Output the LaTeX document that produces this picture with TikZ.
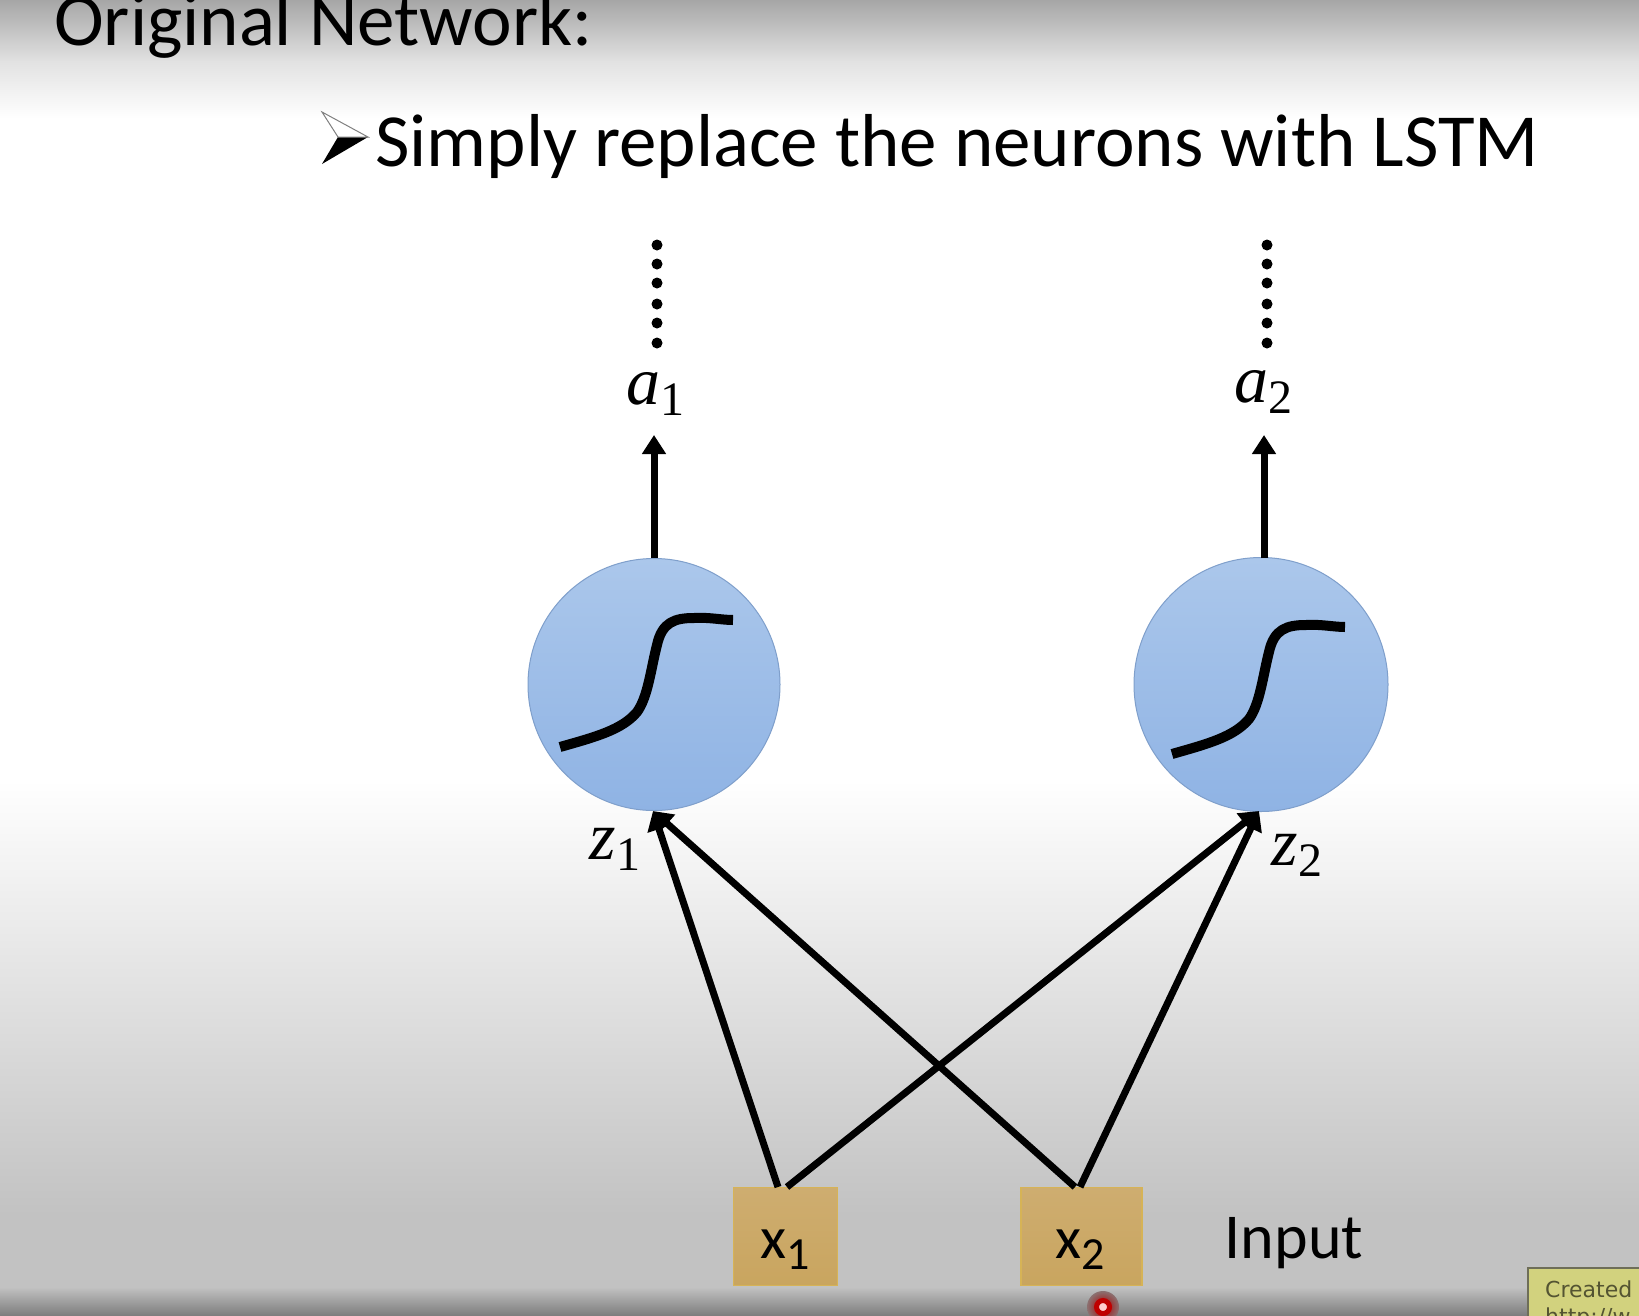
\documentclass[tikz,border=0pt]{standalone}
\usepackage{fontspec}
\setmainfont{Carlito}
\newfontfamily\mathish[ItalicFont={Liberation Serif Italic}]{Liberation Serif}
\newfontfamily\tipfont{DejaVu Sans}
\usetikzlibrary{arrows.meta}
\definecolor{bgtop}{HTML}{A6A6A6}
\definecolor{bgtwo}{HTML}{E2E2E2}
\definecolor{bgmid}{HTML}{C2C2C2}
\definecolor{bgdark}{HTML}{7E7E7E}
\definecolor{circtop}{HTML}{ABC7EB}
\definecolor{circbot}{HTML}{8FB3E4}
\definecolor{circline}{HTML}{7F9FCB}
\definecolor{boxtop}{HTML}{CEAD70}
\definecolor{boxbot}{HTML}{C9A55F}
\definecolor{boxline}{HTML}{D6B356}
\definecolor{tipfill}{HTML}{D2D27E}
\definecolor{tipline}{HTML}{6E6E58}
\tikzset{
  neuron/.style={circle,draw=circline,line width=1pt,inner sep=0pt,top color=circtop,bottom color=circbot},
  inbox/.style={rectangle,draw=boxline,line width=1.5pt,inner sep=0pt,top color=boxtop,bottom color=boxbot},
  wire/.style={line width=7pt,-{Triangle[length=19pt,width=23pt]}},
  sig/.style={line width=10pt,line join=round},
  head/.style={anchor=base west,inner sep=0pt,font=\fontsize{75}{75}\selectfont},
  plain/.style={inner sep=0pt,font=\fontsize{64}{64}\selectfont},
  mathlab/.style={inner sep=0pt,font=\fontsize{68}{68}\selectfont\mathish},
  inlab/.style={inner sep=0pt,font=\fontsize{60}{60}\selectfont},
  dot/.style={circle,fill=black,inner sep=0pt,minimum size=11pt},
}
\newcommand{\subnum}[1]{\raisebox{-11pt}{\fontsize{48}{48}\selectfont\upshape #1}}
\begin{document}
\begin{tikzpicture}[x=1pt,y=-1pt]
\useasboundingbox (0,0) rectangle (1639,1315);
\clip (0,0) rectangle (1639,1315);
\fill[white] (0,0) rectangle (1639,1315);
\shade[top color=bgtop,bottom color=bgtwo] (0,0) rectangle (1639,62);
\shade[top color=bgtwo,bottom color=white] (0,61.5) rectangle (1639,118);
\shade[top color=white,bottom color=bgmid] (0,780) rectangle (1639,1215);
\fill[bgmid] (0,1215) rectangle (1639,1288);
\shade[top color=bgmid,bottom color=bgdark] (0,1287) rectangle (1639,1315);
% headings
\node[head] (title) at (54,45) {Original Network:};
\fill[black] (322,164) -- (368,137) -- (338,137) -- cycle;
\draw[gray,line width=1pt,fill=white] (322,112) -- (368,137) -- (338,137) -- cycle;
\node[head] (sub) at (375,166) {Simply replace the neurons with LSTM};
% neurons
\node[neuron,minimum size=252pt] (n1) at (654,684.5) {};
\node[neuron,minimum size=254pt] (n2) at (1261,684.5) {};
\draw[sig] (560,747) .. controls (595,737) and (622,730) .. (637,712) .. controls (648,697) and (651,668) .. (657,645) .. controls (662,622) and (675,618) .. (694,618) .. controls (708,617) and (722,620) .. (733,620);
\draw[sig,xshift=612pt,yshift=-7pt] (560,747) .. controls (595,737) and (622,730) .. (637,712) .. controls (648,697) and (651,668) .. (657,645) .. controls (662,622) and (675,618) .. (694,618) .. controls (708,617) and (722,620) .. (733,620);
% outputs
\coordinate (t1) at (654,435);
\coordinate (t2) at (1264,435);
\coordinate (s2) at (1264,558);
\draw[wire] (n1.north) -- (t1);
\draw[wire] (s2) -- (t2);
\node[mathlab] (a1) at (655,394) {\itshape a\subnum{1}};
\node[mathlab] (a2) at (1263,392) {\itshape a\subnum{2}};
\foreach \i/\y in {1/245,2/264,3/283,4/304,5/323,6/343}{
  \node[dot] (d1\i) at (657,\y) {};
  \node[dot] (d2\i) at (1267,\y) {};
}
\node[mathlab] (z1) at (615,849) {\itshape z\subnum{1}};
\node[mathlab] (z2) at (1297,855) {\itshape z\subnum{2}};
% inputs
\node[inbox,minimum width=104pt,minimum height=98pt] (x1) at (785.5,1236.5) {};
\node[inbox,minimum width=121pt,minimum height=98pt] (x2) at (1081.5,1236.5) {};
\node[inlab] (x1l) at (785,1250) {x\raisebox{-11pt}{\fontsize{46}{46}\selectfont 1}};
\node[inlab] (x2l) at (1080,1250) {x\raisebox{-11pt}{\fontsize{46}{46}\selectfont 2}};
\node[plain] (input) at (1294,1243) {Input};
\coordinate (x1a) at (778,1187);
\coordinate (x1b) at (787,1187);
\coordinate (x2a) at (1075,1187);
\coordinate (x2b) at (1080,1187);
\coordinate (h1) at (653,811);
\coordinate (h2) at (1259,811);
\draw[wire] (x1a) -- (h1);
\draw[wire] (x2a) -- (h1);
\draw[wire] (x1b) -- (h2);
\draw[wire] (x2b) -- (h2);
% pointer mark
\shade[inner color=red!65!black,outer color=bgdark!90!red] (1103,1307) circle (16pt);
\draw[red!75!black,line width=5pt,fill=red!20!white] (1103,1307) circle (6.5pt);
% tooltip
\fill[tipfill,draw=tipline,line width=2pt] (1528,1268) rectangle (1660,1330);
\node[anchor=base west,inner sep=0pt,text=black!60!tipfill,font=\fontsize{22}{22}\selectfont\tipfont] (tip) at (1545,1297) {Created};
\node[anchor=base west,inner sep=0pt,text=black!60!tipfill,font=\fontsize{22}{22}\selectfont\tipfont] (tipb) at (1545,1324) {http://w};
\end{tikzpicture}
\end{document}
